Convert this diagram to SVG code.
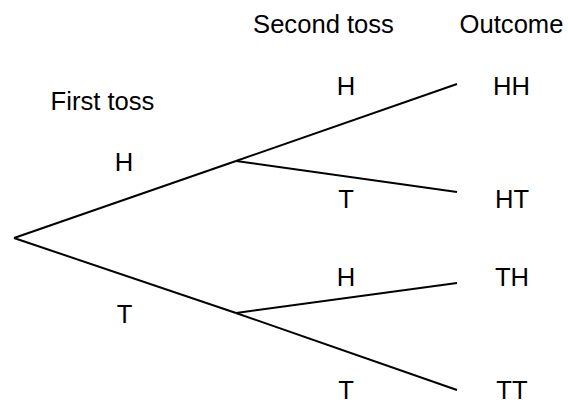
<svg xmlns="http://www.w3.org/2000/svg" width="568" height="400" viewBox="0 0 568 400">
<style>
text{font-family:"Liberation Sans",Arial,sans-serif;font-size:25.6px;fill:#000;text-anchor:middle}
.e{stroke:#000;stroke-width:2;fill:none;stroke-linecap:butt}
</style>
<rect width="568" height="400" fill="#fff"/>
<g id="headers">
<text x="323.5" y="33">Second toss</text>
<text x="511.5" y="33">Outcome</text>
<text x="102.5" y="110">First toss</text>
</g>
<g id="connectors">
<line class="e" x1="14" y1="238" x2="236" y2="161"/>
<line class="e" x1="14" y1="238" x2="236" y2="313"/>
<line class="e" x1="236" y1="161" x2="457" y2="84"/>
<line class="e" x1="236" y1="161" x2="457" y2="192"/>
<line class="e" x1="236" y1="313" x2="457" y2="283"/>
<line class="e" x1="236" y1="313" x2="457" y2="390"/>
</g>
<g id="first-H"><text x="124" y="171">H</text></g>
<g id="first-T"><text x="124.5" y="323">T</text></g>
<g id="second-HH"><text x="346" y="95">H</text></g>
<g id="second-HT"><text x="346" y="208">T</text></g>
<g id="second-TH"><text x="346" y="286">H</text></g>
<g id="second-TT"><text x="346" y="399">T</text></g>
<g id="outcome-HH"><text x="511.5" y="95">HH</text></g>
<g id="outcome-HT"><text x="512" y="208">HT</text></g>
<g id="outcome-TH"><text x="512" y="286">TH</text></g>
<g id="outcome-TT"><text x="512" y="399">TT</text></g>
</svg>
